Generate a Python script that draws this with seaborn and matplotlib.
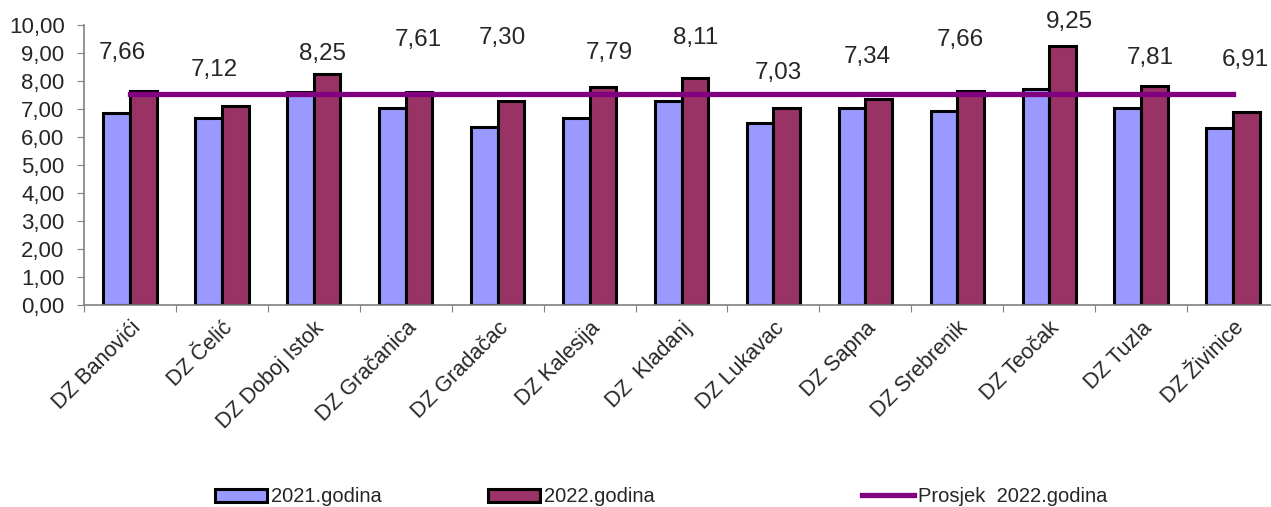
import numpy as np
import pandas as pd
import matplotlib
matplotlib.use("Agg")
import matplotlib.pyplot as plt
import seaborn as sns
from matplotlib.ticker import FixedLocator, FuncFormatter

# data
categories = ["DZ Banovići", "DZ Čelić", "DZ Doboj Istok", "DZ Gračanica",
              "DZ Gradačac", "DZ Kalesija", "DZ  Kladanj", "DZ Lukavac",
              "DZ Sapna", "DZ Srebrenik", "DZ Teočak", "DZ Tuzla", "DZ Živinice"]
godina_2021 = [6.87, 6.67, 7.62, 7.02, 6.37, 6.67, 7.30, 6.51, 7.02, 6.93, 7.71, 7.05, 6.31]
godina_2022 = [7.66, 7.12, 8.25, 7.61, 7.30, 7.79, 8.11, 7.03, 7.34, 7.66, 9.25, 7.81, 6.91]
prosjek_2022 = [7.52] * len(categories)

# label placement (hand-placed in the original)
label_y = [9.0, 8.39, 8.96, 9.46, 9.54, 9.0, 9.54, 8.29, 8.86, 9.46, 10.1, 8.82, 8.75]
label_dx = [-0.08, -0.08, 0.09, 0.14, 0.05, 0.21, 0.15, 0.05, 0.02, 0.03, 0.22, 0.10, 0.13]

sns.set_style("white")
plt.rcParams['font.family'] = ['Liberation Sans', 'DejaVu Sans']

df = pd.DataFrame({
    "kategorija": categories * 2,
    "vrijednost": godina_2021 + godina_2022,
    "serija": ["2021.godina"] * len(categories) + ["2022.godina"] * len(categories),
})

fig = plt.figure(figsize=(12.71, 5.07), dpi=100)
ax = fig.add_axes([84 / 1271, 202 / 507, 1 - 84 / 1271, 280 / 507])

sns.barplot(data=df, x="kategorija", y="vrijednost", hue="serija",
            palette=["#9999FF", "#993366"], width=0.58, dodge=True,
            edgecolor="black", linewidth=2.2, saturation=1, ax=ax)

xpos = np.arange(len(categories))
sns.lineplot(x=xpos, y=prosjek_2022, color="#800080", linewidth=3.8,
             label="Prosjek  2022.godina", ax=ax, solid_capstyle="projecting")

for i, v in enumerate(godina_2022):
    ax.text(xpos[i] + label_dx[i], label_y[i], f"{v:.2f}".replace(".", ","),
            ha="center", va="center", fontsize=17.5)

ax.set_ylim(0, 10)
ax.set_xlim(-0.5, len(categories) - 0.5 - 8 / 91.7)
ax.set_xlabel("")
ax.set_ylabel("")
ax.set_yticks(np.arange(0, 11, 1))
ax.yaxis.set_major_formatter(FuncFormatter(lambda v, p: f"{v:.2f}".replace(".", ",")))

ax.xaxis.set_major_locator(FixedLocator(np.arange(-0.5, len(categories), 1)))
ax.xaxis.set_major_formatter(FuncFormatter(lambda v, p: ""))
ax.xaxis.set_minor_locator(FixedLocator(xpos))
ax.set_xticklabels(categories, minor=True, rotation=45, ha="right",
                   rotation_mode="anchor", fontsize=15.5)
ax.tick_params(axis="x", which="minor", length=0, pad=9)
ax.tick_params(axis="x", which="major", length=5, color="#808080", direction="out", bottom=True)
ax.tick_params(axis="y", length=5, color="#808080", direction="out", left=True,
               labelsize=16, pad=9)

for s in ["top", "right"]:
    ax.spines[s].set_visible(False)
for s in ["left", "bottom"]:
    ax.spines[s].set_color("#808080")
    ax.spines[s].set_linewidth(1.2)

handles, labels = ax.get_legend_handles_labels()
ax.get_legend().remove()
legend_x = [215 / 1271, 488 / 1271, 862 / 1271]
for h, lab, lx in zip(handles, labels, legend_x):
    fig.legend([h], [lab], loc="center left", bbox_to_anchor=(lx, 0.02),
               frameon=False, fontsize=14.5, handlelength=2.6, handleheight=0.65,
               handletextpad=0.2, borderpad=0, borderaxespad=0)

fig.savefig("out.png", dpi=100)
